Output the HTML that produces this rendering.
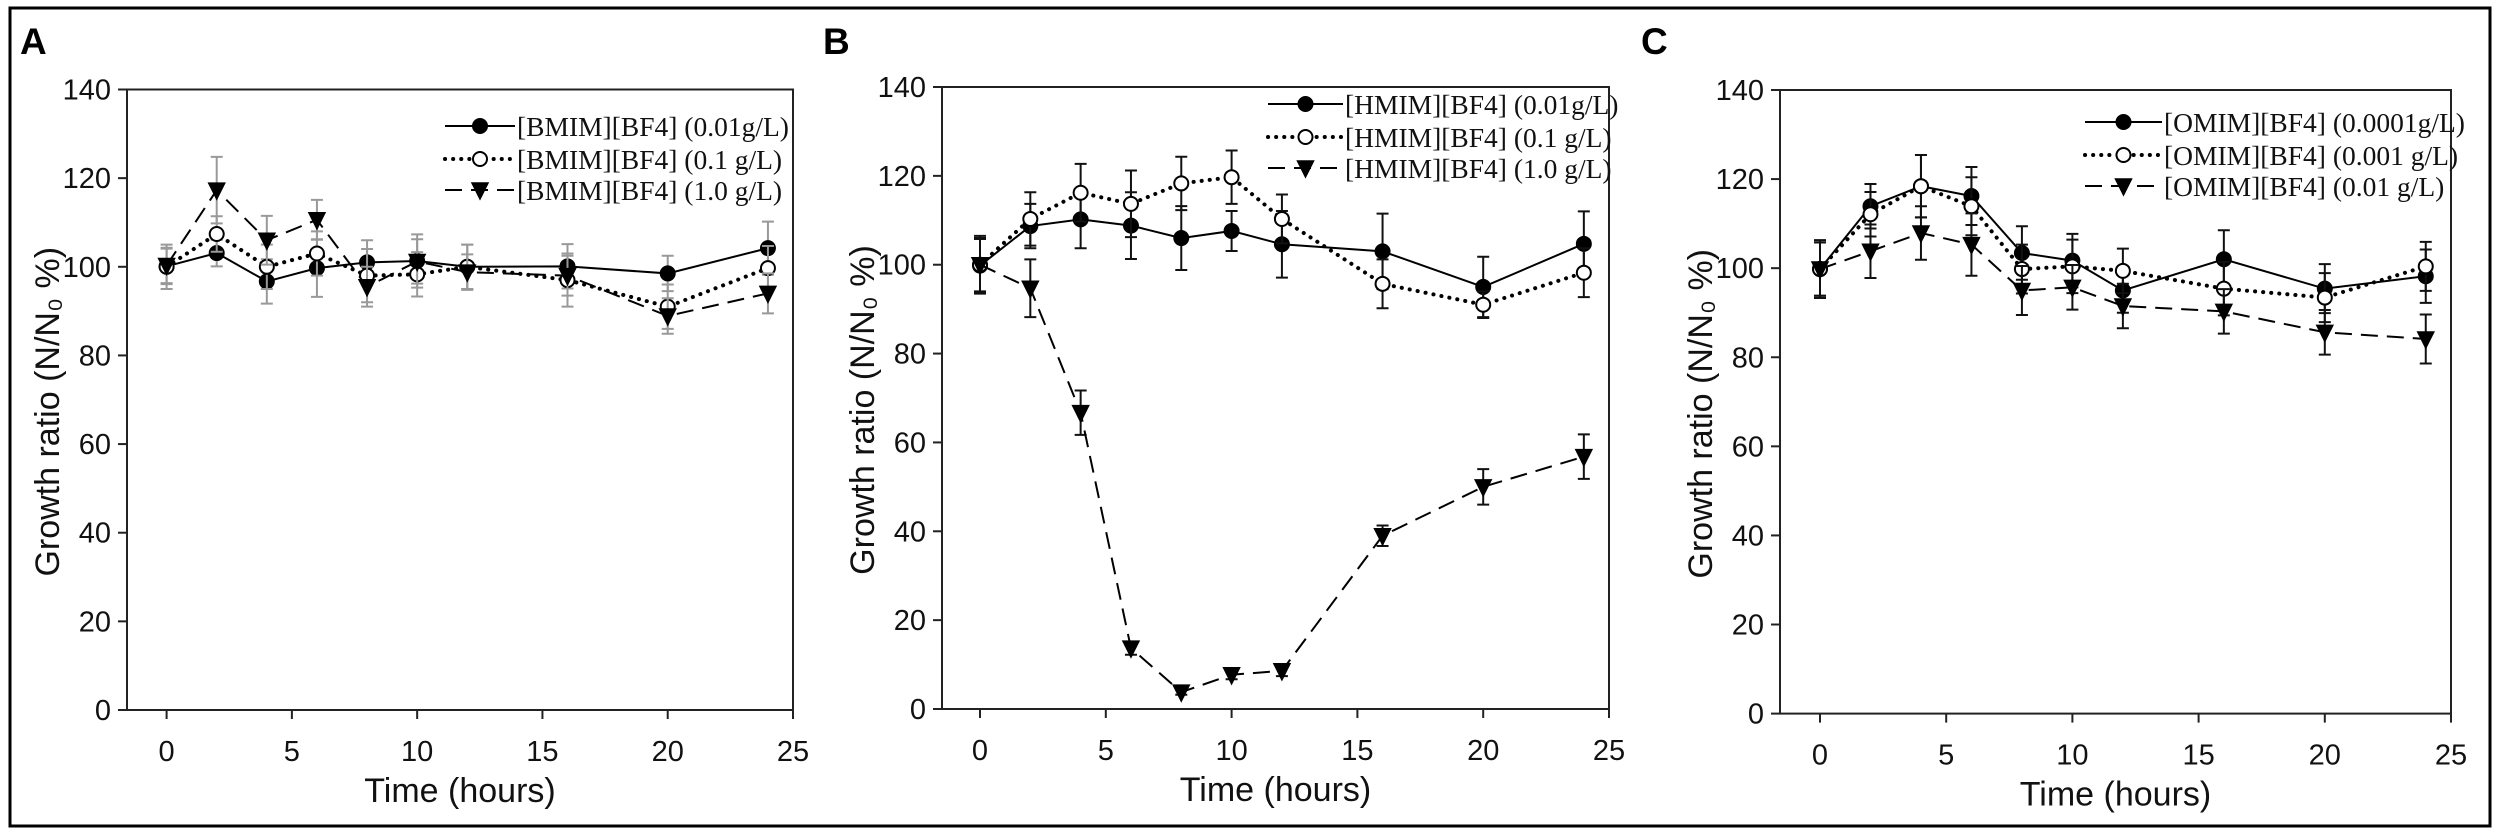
<!DOCTYPE html>
<html><head><meta charset="utf-8">
<style>
html,body{margin:0;padding:0;background:#fff;}
svg{display:block;}
.tick{font-family:"Liberation Sans",Arial,sans-serif;font-size:29px;fill:#111;}
.title{font-family:"Liberation Sans",Arial,sans-serif;font-size:34px;fill:#111;}
.leg{font-family:"Liberation Serif","Times New Roman",serif;font-size:27.5px;fill:#111;}
.plab{font-family:"Liberation Sans",Arial,sans-serif;font-size:37px;font-weight:bold;fill:#000;}
</style></head>
<body>
<svg id="fig" width="2500" height="835" viewBox="0 0 2500 835" xmlns="http://www.w3.org/2000/svg">
<rect x="10" y="8" width="2480" height="818" fill="none" stroke="#000" stroke-width="3"/>
</svg>
<script>
// Shared data
const times = [0, 2, 4, 6, 8, 10, 12, 16, 20, 24];
const xTicks = [0, 5, 10, 15, 20, 25];
const yTicks = [0, 20, 40, 60, 80, 100, 120, 140];

// Panel A
const aLabels = ["[BMIM][BF4] (0.01g/L)", "[BMIM][BF4] (0.1 g/L)", "[BMIM][BF4] (1.0 g/L)"];
const aLow = [100.1, 103.1, 96.7, 99.7, 101.0, 101.3, 100.0, 100.1, 98.5, 104.2];
const aMid = [100.0, 107.4, 100.0, 103.0, 98.0, 98.3, 100.0, 97.0, 91.0, 99.7];
const aHigh = [100.3, 117.3, 106.0, 110.6, 95.5, 101.2, 98.8, 98.0, 88.9, 94.0];
const aLowErr = [4, 3, 5, 6.5, 5, 6, 5, 5, 4, 6];
const aMidErr = [5, 4, 5, 5, 6, 5, 5, 6, 5, 5];
const aHighErr = [4, 7.5, 5.5, 4.5, 4.5, 5, 4, 4.5, 4, 4.5];

// Panel B
const bLabels = ["[HMIM][BF4] (0.01g/L)", "[HMIM][BF4] (0.1 g/L)", "[HMIM][BF4] (1.0 g/L)"];
const bLow = [99.8, 108.7, 110.2, 108.8, 106.0, 107.6, 104.6, 103.0, 95.0, 104.7];
const bMid = [100.0, 110.3, 116.2, 113.7, 118.3, 119.7, 110.3, 95.7, 91.0, 98.2];
const bHigh = [100.0, 94.7, 66.7, 13.7, 3.8, 7.7, 8.6, 39.0, 50.0, 56.8];
const bLowErr = [6, 5, 6.5, 7.5, 7.2, 4.5, 7.5, 8.5, 6.8, 7.3];
const bMidErr = [6.5, 6, 6.5, 7.5, 6, 6, 5.5, 5.5, 3, 5.5];
const bHighErr = [6, 6.5, 5, 1.5, 0.6, 1, 1.2, 2.3, 4, 5];

// Panel C
const cLabels = ["[OMIM][BF4] (0.0001g/L)", "[OMIM][BF4] (0.001 g/L)", "[OMIM][BF4] (0.01 g/L)"];
const cLow = [99.8, 113.9, 118.4, 116.2, 103.4, 101.7, 95.0, 102.0, 95.4, 98.2];
const cMid = [99.8, 112.1, 118.4, 113.9, 99.8, 100.4, 99.4, 95.4, 93.4, 100.4];
const cHigh = [99.8, 103.8, 107.9, 105.3, 95.0, 95.7, 91.5, 90.3, 85.6, 84.1];
const cLowErr = [6.5, 5, 7, 6.5, 6, 6, 5, 6.5, 5.5, 6];
const cMidErr = [6, 5, 7, 6.5, 5.5, 6, 5, 6, 5.5, 5.5];
const cHighErr = [6, 6, 6, 7, 5.5, 5, 5, 5, 5, 5.5];

const NS = "http://www.w3.org/2000/svg";
const fig = document.getElementById("fig");
function mk(tag, attrs, parent) {
  const e = document.createElementNS(NS, tag);
  for (const k in attrs) e.setAttribute(k, attrs[k]);
  (parent || fig).appendChild(e);
  return e;
}

const styles = [
  {dash: "", fill: "#000", marker: "circle", cap: "butt"},
  {dash: "0.1 8", fill: "#fff", marker: "circle", cap: "round", w: 4},
  {dash: "17 9", fill: "#000", marker: "tri", cap: "butt"}
];

function drawMarker(g, kind, cx, cy, fill, name) {
  let m;
  if (kind === "circle") {
    m = mk("circle", {cx: cx, cy: cy, r: 7, fill: fill, stroke: "#000", "stroke-width": 2}, g);
  } else {
    m = mk("polygon", {points: (cx-8)+","+(cy-7)+" "+(cx+8)+","+(cy-7)+" "+cx+","+(cy+9), fill: fill, stroke: "#000", "stroke-width": 1.5}, g);
  }
  
  
}

function panel(cfg) {
  const g = mk("g", {});
  
  
  const X = t => cfg.x0 + (t / 25) * (cfg.x25 - cfg.x0);
  const Y = v => cfg.y0 - (v / 140) * (cfg.y0 - cfg.y140);
  const pl = mk("text", {x: cfg.lx, y: 54, class: "plab"}, g);
  pl.textContent = cfg.letter;
  
  
  const box = mk("rect", {x: cfg.left, y: cfg.y140, width: cfg.x25 - cfg.left, height: cfg.y0 - cfg.y140, fill: "none", stroke: "#222", "stroke-width": 2}, g);
  
  
  yTicks.forEach(v => {
    const tl = mk("line", {x1: cfg.left - 9, x2: cfg.left, y1: Y(v), y2: Y(v), stroke: "#222", "stroke-width": 2}, g);
    
    
    const tx = mk("text", {x: cfg.left - 16, y: Y(v) + 10, "text-anchor": "end", class: "tick"}, g);
    tx.textContent = v;
    
    
  });
  xTicks.forEach(t => {
    const tl = mk("line", {x1: X(t), x2: X(t), y1: cfg.y0, y2: cfg.y0 + 9, stroke: "#222", "stroke-width": 2}, g);
    
    
    const tx = mk("text", {x: X(t), y: cfg.y0 + 51, "text-anchor": "middle", class: "tick"}, g);
    tx.textContent = t;
    
    
  });
  const xt = mk("text", {x: (cfg.left + cfg.x25) / 2, y: cfg.y0 + 92, "text-anchor": "middle", class: "title"}, g);
  xt.textContent = "Time (hours)";
  
  
  const ycx = cfg.left - 68, ycy = (cfg.y0 + cfg.y140) / 2 + 12;
  const yt = mk("text", {x: ycx, y: ycy, "text-anchor": "middle", class: "title", transform: "rotate(-90 " + ycx + " " + ycy + ")"}, g);
  yt.textContent = "Growth ratio (N/N\u2080 %)";
  
  

  cfg.series.forEach((s, i) => {
    const st = styles[i];
    const sg = mk("g", {}, g);
    
    
    s.vals.forEach((v, j) => {
      const e = s.err[j], x = X(times[j]);
      const eb = mk("path", {d: "M" + x + "," + Y(v - e) + "V" + Y(v + e) + "M" + (x - 6) + "," + Y(v - e) + "h12M" + (x - 6) + "," + Y(v + e) + "h12", stroke: cfg.errColor, "stroke-width": 2, fill: "none"}, sg);
      
      
    });
    const pts = s.vals.map((v, j) => X(times[j]) + "," + Y(v)).join(" ");
    const pl2 = mk("polyline", {points: pts, fill: "none", stroke: "#000", "stroke-width": st.w || 2, "stroke-dasharray": st.dash, "stroke-linecap": st.cap}, sg);
    
    
    s.vals.forEach((v, j) => drawMarker(sg, st.marker, X(times[j]), Y(v), st.fill, 'data-point'));
    const ly = cfg.legY[i];
    const lg = mk("g", {}, g);
    
    
    mk("line", {x1: cfg.legX[0], x2: cfg.legX[1], y1: ly, y2: ly, stroke: "#000", "stroke-width": st.w || 2, "stroke-dasharray": st.dash, "stroke-linecap": st.cap}, lg);
    drawMarker(lg, st.marker, (cfg.legX[0] + cfg.legX[1]) / 2, ly, st.fill, 'legend-marker');
    const lt = mk("text", {x: cfg.legX[1] + 2, y: ly + 10, class: "leg"}, lg);
    lt.textContent = s.label;
    
    
  });
}

panel({name: "panel-a", letter: "A", lx: 20, left: 127, x0: 166.6, x25: 793, y0: 710, y140: 89.5, errColor: "#999",
  legX: [445, 515], legY: [126, 159, 190],
  series: [{vals: aLow, err: aLowErr, label: aLabels[0]}, {vals: aMid, err: aMidErr, label: aLabels[1]}, {vals: aHigh, err: aHighErr, label: aLabels[2]}]});
panel({name: "panel-b", letter: "B", lx: 823, left: 942, x0: 980, x25: 1609, y0: 709, y140: 87, errColor: "#111",
  legX: [1268, 1343], legY: [104, 137, 168],
  series: [{vals: bLow, err: bLowErr, label: bLabels[0]}, {vals: bMid, err: bMidErr, label: bLabels[1]}, {vals: bHigh, err: bHighErr, label: bLabels[2]}]});
panel({name: "panel-c", letter: "C", lx: 1641, left: 1780, x0: 1820, x25: 2451, y0: 713.6, y140: 90, errColor: "#111",
  legX: [2085, 2162], legY: [122, 155, 186],
  series: [{vals: cLow, err: cLowErr, label: cLabels[0]}, {vals: cMid, err: cMidErr, label: cLabels[1]}, {vals: cHigh, err: cHighErr, label: cLabels[2]}]});
</script>
</body></html>
